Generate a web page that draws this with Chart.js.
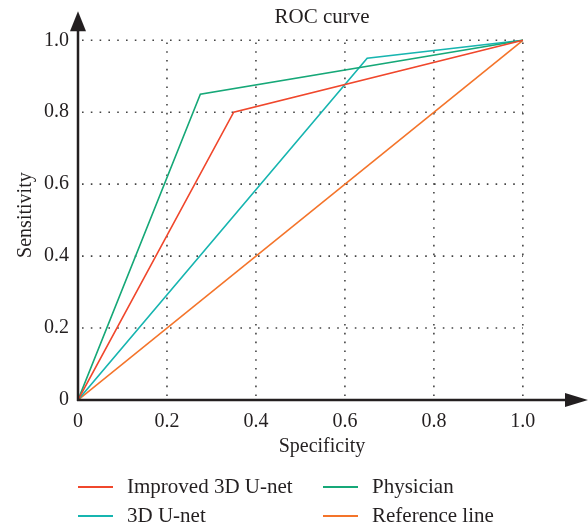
<!DOCTYPE html>
<html>
<head>
<meta charset="utf-8">
<script src="https://cdn.jsdelivr.net/npm/chart.js@4/dist/chart.umd.min.js"></script>
<style>
  html, body { margin: 0; padding: 0; background: #fff; }
  #wrap { width: 588px; height: 525px; }
</style>
</head>
<body>
<div id="wrap"><canvas id="roc"></canvas></div>
<script>
// ROC points (specificity, sensitivity)
const improvedX = [0, 0.35, 1.0];
const improvedY = [0, 0.80, 1.0];
const physicianX = [0, 0.275, 1.0];
const physicianY = [0, 0.85, 1.0];
const unetX = [0, 0.65, 1.0];
const unetY = [0, 0.95, 1.0];
const refX = [0, 1.0];
const refY = [0, 1.0];

const seriesNames = ['Improved 3D U-net', 'Physician', '3D U-net', 'Reference line'];
const tickValues = [0, 0.2, 0.4, 0.6, 0.8, 1.0];

const FONT = "'Liberation Serif', 'DejaVu Serif', serif";
const INK = '#231f20';

function pts(xs, ys) {
    return xs.map((x, i) => ({ x: x, y: ys[i] }));
}

function tickLabel(v) {
    return v === 0 ? '0' : v.toFixed(1);
}

function keepTicks(scale) {
    scale.ticks = tickValues.map(v => ({ value: v }));
}

// dotted grid inside [0,1] x [0,1], axes with arrowheads
const frame = {
    id: 'frame',
    beforeDatasetsDraw(chart) {
        const c = chart.ctx, xs = chart.scales.x, ys = chart.scales.y;
        const x0 = xs.getPixelForValue(0), x1 = xs.getPixelForValue(1);
        const y0 = ys.getPixelForValue(0), y1 = ys.getPixelForValue(1);
        c.save();
        c.strokeStyle = '#444';
        c.lineWidth = 1.6;
        c.setLineDash([1.6, 7.2]);
        tickValues.slice(1).forEach(v => {
            const py = ys.getPixelForValue(v);
            c.beginPath(); c.moveTo(x0 + 4, py); c.lineTo(x1, py); c.stroke();
            const px = xs.getPixelForValue(v);
            c.beginPath(); c.moveTo(px, y0 - 4); c.lineTo(px, y1); c.stroke();
        });
        c.restore();
    },
    afterDraw(chart) {
        const c = chart.ctx, a = chart.chartArea;
        const ox = chart.scales.x.getPixelForValue(0);
        const oy = chart.scales.y.getPixelForValue(0);
        c.save();
        c.strokeStyle = INK;
        c.fillStyle = INK;
        c.lineWidth = 2.5;
        c.beginPath();
        c.moveTo(ox, oy + 1); c.lineTo(ox, a.top);
        c.moveTo(ox - 1, oy); c.lineTo(a.right, oy);
        c.stroke();
        c.beginPath();
        c.moveTo(ox, a.top - 19); c.lineTo(ox - 8, a.top + 1); c.lineTo(ox + 8, a.top + 1);
        c.closePath(); c.fill();
        c.beginPath();
        c.moveTo(a.right + 22, oy); c.lineTo(a.right - 1, oy - 7); c.lineTo(a.right - 1, oy + 7);
        c.closePath(); c.fill();

        // legend, two columns
        const cols = [78, 323], rows = [487, 516];
        c.font = '21px ' + FONT;
        c.textBaseline = 'middle';
        c.textAlign = 'left';
        chart.data.datasets.forEach((ds, i) => {
            const lx = cols[i % 2], ly = rows[Math.floor(i / 2)];
            c.strokeStyle = ds.borderColor;
            c.lineWidth = 2;
            c.beginPath(); c.moveTo(lx, ly); c.lineTo(lx + 35, ly); c.stroke();
            c.fillStyle = INK;
            c.fillText(ds.label, lx + 49, ly);
        });
        c.restore();
    }
};

new Chart(document.getElementById('roc'), {
    type: 'line',
    data: {
        datasets: [
            {
                label: seriesNames[0],
                data: pts(improvedX, improvedY),
                borderColor: '#f0472c',
            },
            {
                label: seriesNames[1],
                data: pts(physicianX, physicianY),
                borderColor: '#16a878',
            },
            {
                label: seriesNames[2],
                data: pts(unetX, unetY),
                borderColor: '#17b5b0',
            },
            {
                label: seriesNames[3],
                data: pts(refX, refY),
                borderColor: '#f4742a',
            },
        ]
    },
    options: {
        responsive: true,
        maintainAspectRatio: false,
        animation: false,
        elements: {
            line: { borderWidth: 1.6, tension: 0 },
            point: { radius: 0 }
        },
        layout: { padding: { top: 0, right: 22, bottom: 65, left: 0 } },
        plugins: {
            legend: { display: false },
            tooltip: { enabled: false },
            title: {
                display: true,
                text: 'ROC curve',
                fullSize: false,
                color: INK,
                font: { family: FONT, size: 21, weight: 'normal' },
                padding: { top: 5, bottom: 0 }
            }
        },
        scales: {
            x: {
                type: 'linear',
                min: 0,
                max: 1.097,
                afterBuildTicks: keepTicks,
                afterFit(s) { s.height = 60; },
                grid: { display: false, drawTicks: false },
                border: { display: false },
                ticks: {
                    padding: 10,
                    color: INK,
                    font: { family: FONT, size: 20 },
                    maxRotation: 0,
                    callback: tickLabel
                },
                title: {
                    display: true,
                    text: 'Specificity',
                    color: INK,
                    font: { family: FONT, size: 20 },
                    padding: { top: 0, bottom: 1 }
                }
            },
            y: {
                type: 'linear',
                min: 0,
                max: 1.028,
                afterBuildTicks: keepTicks,
                afterFit(s) { s.width = 78; },
                grid: { display: false, drawTicks: false },
                border: { display: false },
                ticks: {
                    padding: 9,
                    color: INK,
                    font: { family: FONT, size: 20 },
                    callback: tickLabel
                },
                title: {
                    display: true,
                    text: 'Sensitivity',
                    color: INK,
                    font: { family: FONT, size: 20 },
                    padding: { top: 14, bottom: 0 }
                }
            }
        }
    },
    plugins: [frame]
});
</script>
</body>
</html>
